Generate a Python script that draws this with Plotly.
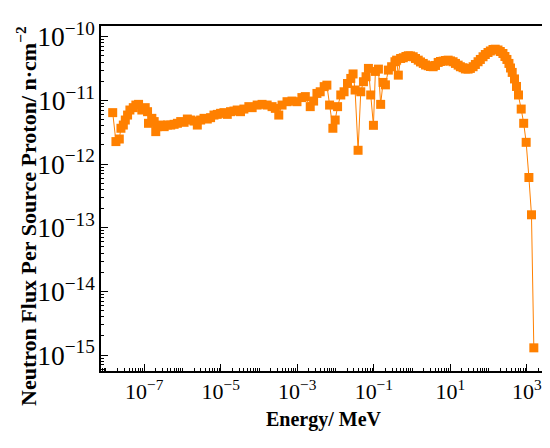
import plotly.graph_objects as go

# neutron energy bins (MeV) and flux per source proton (n/cm^2)
energy = [
    1.5e-8, 1.82e-8, 2.23e-8, 2.46e-8, 2.84e-8, 3.2e-8, 3.67e-8, 4.22e-8, 5.17e-8, 6.04e-8,
    7.11e-8, 8.66e-8, 1.06e-7, 1.22e-7, 1.29e-7, 1.58e-7, 1.82e-7, 2.0e-7, 2.22e-7, 2.71e-7,
    3.32e-7, 4.04e-7, 4.93e-7, 6.04e-7, 7.36e-7, 8.98e-7, 1.1e-6, 1.34e-6, 1.64e-6, 2.0e-6,
    2.44e-6, 2.98e-6, 3.65e-6, 4.45e-6, 5.42e-6, 6.65e-6, 8.11e-6, 9.88e-6, 1.21e-5, 1.48e-5,
    1.8e-5, 2.21e-5, 2.69e-5, 3.28e-5, 4.02e-5, 5.42e-5, 6.61e-5, 8.93e-5, 1.2e-4, 1.63e-4,
    2.19e-4, 2.67e-4, 3.28e-4, 4.0e-4, 5.39e-4, 7.28e-4, 9.82e-4, 1.32e-3, 1.62e-3, 2.18e-3,
    2.67e-3, 3.26e-3, 3.97e-3, 5.05e-3, 5.93e-3, 6.98e-3, 8.51e-3, 9.77e-3, 1.13e-2, 1.37e-2,
    1.67e-2, 2.05e-2, 2.5e-2, 2.87e-2, 3.24e-2, 3.88e-2, 4.56e-2, 5.36e-2, 6.27e-2, 7.23e-2,
    8.3e-2, 9.77e-2, 0.110, 0.132, 0.151, 0.174, 0.201, 0.240, 0.292, 0.357,
    0.395, 0.437, 0.502, 0.590, 0.690, 0.796, 0.914, 1.07, 1.23, 1.45,
    1.66, 1.96, 2.25, 2.64, 3.03, 3.56, 4.09, 4.81, 5.52, 6.49,
    7.45, 8.77, 10.1, 11.8, 13.6, 16.0, 18.3, 21.5, 24.7, 29.1,
    33.4, 39.3, 45.1, 53.0, 60.8, 71.5, 82.0, 96.4, 111, 130,
    149, 176, 202, 237, 267, 301, 340, 374, 414, 475,
    536, 604, 711, 826, 959, 1130, 1320, 1520,
]
flux = [
    6.44e-12, 2.26e-12, 2.48e-12, 3.66e-12, 4.11e-12, 4.93e-12, 5.9e-12, 7.08e-12, 7.71e-12, 8.47e-12,
    8.69e-12, 7.08e-12, 7.71e-12, 6.67e-12, 4.38e-12, 5.24e-12, 4.66e-12, 3.24e-12, 3.88e-12, 4.11e-12,
    3.88e-12, 4.11e-12, 4.11e-12, 4.22e-12, 4.38e-12, 4.66e-12, 4.54e-12, 5.11e-12, 4.93e-12, 4.75e-12,
    4.11e-12, 4.93e-12, 5.24e-12, 5.11e-12, 5.37e-12, 5.9e-12, 6.05e-12, 6.28e-12, 6.44e-12, 6.05e-12,
    6.67e-12, 6.82e-12, 7.08e-12, 6.67e-12, 7.33e-12, 8.0e-12, 7.71e-12, 8.47e-12, 8.69e-12, 8.47e-12,
    8.0e-12, 7.52e-12, 5.9e-12, 8.47e-12, 9.57e-12, 9.79e-12, 9.57e-12, 1.11e-11, 1.15e-11, 8.0e-12,
    9.79e-12, 1.29e-11, 1.37e-11, 1.65e-11, 1.74e-11, 8.47e-12, 3.66e-12, 4.93e-12, 8.0e-12, 1.22e-11,
    1.37e-11, 1.85e-11, 2.22e-11, 2.61e-11, 1.46e-11, 1.65e-12, 1.37e-11, 1.97e-11, 2.36e-11, 3.19e-11,
    1.22e-11, 4.07e-12, 2.86e-11, 3.11e-11, 8.69e-12, 1.92e-11, 1.76e-11, 3.0e-11, 3.39e-11, 4.06e-11,
    4.3e-11, 2.5e-11, 4.57e-11, 4.69e-11, 4.91e-11, 5.04e-11, 5.0e-11, 4.86e-11, 4.57e-11, 4.3e-11,
    4.03e-11, 3.82e-11, 3.61e-11, 3.51e-11, 3.42e-11, 3.39e-11, 3.55e-11, 3.96e-11, 4.1e-11, 4.15e-11,
    4.25e-11, 4.3e-11, 4.18e-11, 4.06e-11, 3.82e-11, 3.59e-11, 3.39e-11, 3.27e-11, 3.13e-11, 3.11e-11,
    3.19e-11, 3.39e-11, 3.68e-11, 4.06e-11, 4.41e-11, 4.86e-11, 5.28e-11, 5.67e-11, 5.99e-11, 6.32e-11,
    6.39e-11, 6.21e-11, 5.88e-11, 5.47e-11, 4.91e-11, 4.41e-11, 3.82e-11, 3.24e-11, 2.76e-11, 2.18e-11,
    1.66e-11, 1.22e-11, 7.33e-12, 4.38e-12, 2.2e-12, 6.17e-13, 1.6e-13, 1.3e-15,
]

x_tickvals = [1e-7, 1e-5, 1e-3, 1e-1, 10, 1000]
x_ticktext = ["10<sup>\u22127</sup>", "10<sup>\u22125</sup>", "10<sup>\u22123</sup>",
              "10<sup>\u22121</sup>", "10<sup>1</sup>", "10<sup>3</sup>"]

x_title = "<b>Energy/ MeV</b>"
y_title = "<b>Neutron Flux Per Source Proton/ n\u00b7cm<sup>\u22122</sup></b>"

orange = "#ff8000"
font = "Liberation Serif"

# unlabeled x ticks: the even decades plus the 2..9 sub-ticks
x_minor = [m * 10.0 ** d for d in range(-9, 4) for m in range(1, 10) if not (m == 1 and d % 2 != 0)]

fig = go.Figure(go.Scatter(
    x=energy, y=flux,
    mode="lines+markers",
    line=dict(color=orange, width=1),
    marker=dict(symbol="square", size=9, color=orange),
))

axis_common = dict(
    type="log",
    showline=True, linecolor="black", linewidth=1.5, mirror=True,
    ticks="inside", ticklen=7, tickwidth=1.2, tickcolor="black",
    showgrid=False, zeroline=False,
    exponentformat="power",
    tickfont=dict(family=font, size=22, color="black"),
)

fig.update_xaxes(
    **axis_common,
    range=[-8.13, 3.5],
    tickmode="array", tickvals=x_tickvals, ticktext=x_ticktext,
    minor=dict(ticks="inside", ticklen=3.5, tickwidth=1, tickcolor="black",
               tickmode="array", tickvals=x_minor, showgrid=False),
)
fig.update_yaxes(
    **axis_common,
    range=[-15.25, -9.83],
    dtick=1,
    minor=dict(ticks="inside", ticklen=3.5, tickwidth=1, tickcolor="black", dtick="D1", showgrid=False),
)

fig.add_annotation(
    text=y_title, textangle=-90,
    xref="paper", yref="paper", x=-0.168, y=0.45,
    xanchor="center", yanchor="middle", showarrow=False,
    font=dict(family=font, size=22, color="black"),
)
fig.add_annotation(
    text=x_title,
    xref="paper", yref="paper", x=0.5, y=-0.14,
    xanchor="center", yanchor="middle", showarrow=False,
    font=dict(family=font, size=20, color="black"),
)

fig.update_layout(
    width=550, height=448,
    margin=dict(l=93, r=10, t=17, b=85),
    plot_bgcolor="white", paper_bgcolor="white",
    font=dict(family=font, color="black"),
    showlegend=False,
)

fig.write_html("out.html")
